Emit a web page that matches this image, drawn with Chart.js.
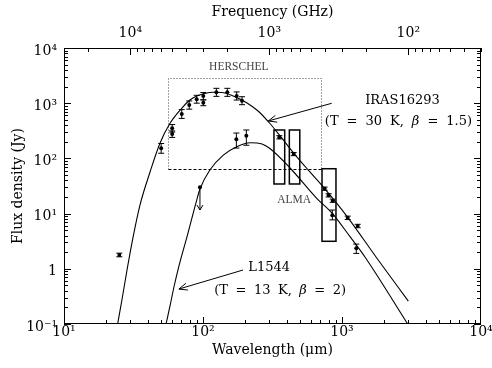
<!DOCTYPE html>
<html><head><meta charset="utf-8">
<script src="https://cdn.jsdelivr.net/npm/chart.js@4/dist/chart.umd.min.js"></script>
<style>html,body{margin:0;padding:0;background:#fff}#wrap{width:492px;height:368px}</style>
</head><body><div id="wrap"><canvas id="c" width="492" height="368"></canvas></div>
<script>
// ---- tick labels ----
const wavelengthTicks = [10, 100, 1000, 10000];
const wavelengthTickLabels = ['10¹', '10²', '10³', '10⁴'];
const frequencyTicks = [10000, 1000, 100];
const frequencyTickLabels = ['10⁴', '10³', '10²'];
const fluxTicks = [0.1, 1, 10, 100, 1000, 10000];
const fluxTickLabels = ['10⁻¹', '1', '10¹', '10²', '10³', '10⁴'];

// ---- IRAS16293 observations (wavelength µm, flux Jy, error range) ----
const irasWl   = [25, 50, 60, 60, 70.3, 79.6, 90.1, 100.5, 100.5, 124.8, 149.6, 174.7, 190.8, 354, 449, 750, 801, 857, 1099, 1297];
const irasFlux = [1.78, 152, 351, 277, 637, 927, 1178, 1350, 1020, 1575, 1575, 1350, 1110, 241, 120, 28.3, 21.4, 17.1, 8.4, 5.96];
const irasLow  = [1.65, 124, 300, 240, 530, 780, 1000, 1150, 900, 1330, 1330, 1140, 940, 225, 112, 26.5, 20, 16, 7.8, 5.55];
const irasHigh = [1.92, 186, 410, 315, 765, 1100, 1390, 1560, 1150, 1860, 1860, 1600, 1310, 258, 128, 30.2, 22.9, 18.3, 9.0, 6.4];

// ---- L1544 observations ----
const l1544Wl   = [173.8, 205, 852, 1267];
const l1544Flux = [222, 258, 9.3, 2.35];
const l1544Low  = [154, 173, 7.7, 1.9];
const l1544High = [288, 327, 11.6, 2.8];
const l1544LimitWl = [95.1];
const l1544LimitFlux = [29.9];
const l1544LimitTo = [11.6];

// ---- model curves ----
const irasModelWl   = [24.3, 26.1, 28.4, 31.3, 35.2, 41.6, 49.1, 57.9, 70.3, 80.5, 90.1, 103, 118.6, 137, 165, 206, 249, 303, 354, 449, 579, 750, 1099, 1778, 3000];
const irasModelFlux = [0.1, 0.272, 0.95, 3.61, 14.3, 56.8, 190, 432, 809, 1143, 1349, 1500, 1575, 1565, 1349, 1020, 722, 429, 266, 125, 59.2, 28.3, 8.57, 1.57, 0.26];
const l1544ModelWl   = [54.2, 57.9, 61.8, 67.1, 77.3, 90.1, 95.1, 112, 140, 175, 218, 266, 303, 423, 658, 851, 1142, 1463, 3000];
const l1544ModelFlux = [0.1, 0.212, 0.468, 1.12, 4.09, 17.6, 27.9, 61.7, 115, 163, 192, 182, 151, 67, 18.9, 10.1, 3.82, 1.64, 0.096];

// ---- observing windows (wavelength range µm, flux range Jy) ----
const herschelWindow = [56, 706, 64.3, 2865];
const almaWindows = [[324, 387, 34.4, 327], [418, 497, 34.4, 327], [718, 905, 3.15, 65]];

const C_UM_GHZ = 2.998e5;
const SERIF = "'DejaVu Serif', serif";

function pts(xs, ys) { return xs.map((x, i) => ({ x: x, y: ys[i] })); }

const decor = {
  id: 'decor',
  beforeDatasetsDraw(chart) {
    const c = chart.ctx, sx = chart.scales.x, sy = chart.scales.y;
    const X = v => sx.getPixelForValue(v), Y = v => sy.getPixelForValue(v);
    c.save();
    const [hx0, hx1, hy0, hy1] = herschelWindow;
    const L = Math.round(X(hx0)) + 0.5, R = Math.round(X(hx1)) + 0.5, T = Math.round(Y(hy1)) + 0.5, B = Math.round(Y(hy0)) + 0.5;
    c.lineWidth = 1; c.strokeStyle = '#444'; c.setLineDash([1, 2]);
    c.beginPath(); c.moveTo(L, B); c.lineTo(L, T); c.lineTo(R, T); c.lineTo(R, B); c.stroke();
    c.strokeStyle = '#000'; c.setLineDash([3, 2]);
    c.beginPath(); c.moveTo(L, B); c.lineTo(R, B); c.stroke();
    c.setLineDash([]);
    c.lineWidth = 1.5; c.strokeStyle = '#000';
    almaWindows.forEach(w => {
      const x0 = X(w[0]), x1 = X(w[1]), y0 = Y(w[3]), y1 = Y(w[2]);
      c.strokeRect(x0, y0, x1 - x0, y1 - y0);
    });
    c.lineWidth = 1;
    const eb = (xs, lo, hi) => xs.forEach((v, i) => {
      const x = X(v), a = Y(lo[i]), b = Y(hi[i]);
      c.beginPath(); c.moveTo(x, a); c.lineTo(x, b);
      c.moveTo(x - 3, a); c.lineTo(x + 3, a); c.moveTo(x - 3, b); c.lineTo(x + 3, b); c.stroke();
    });
    eb(irasWl, irasLow, irasHigh);
    eb(l1544Wl, l1544Low, l1544High);
    l1544LimitWl.forEach((v, i) => {
      const x = X(v), a = Y(l1544LimitFlux[i]), b = Y(l1544LimitTo[i]);
      c.beginPath(); c.moveTo(x, a); c.lineTo(x, b);
      c.moveTo(x - 3, b - 5); c.lineTo(x, b); c.lineTo(x + 3, b - 5); c.stroke();
    });
    c.restore();
  },
  afterDatasetsDraw(chart) {
    const c = chart.ctx, a = chart.chartArea, sx = chart.scales.x, sy = chart.scales.y, sf = chart.scales.x2;
    const X = v => sx.getPixelForValue(v), Y = v => sy.getPixelForValue(v);
    c.save();
    c.strokeStyle = '#000'; c.lineWidth = 1;
    c.strokeRect(a.left + 0.5, a.top + 0.5, a.right - a.left - 1, a.bottom - a.top - 1);
    c.beginPath();
    for (let n = 1; n <= 3; n++) for (let m = 1; m <= 9; m++) {
      const v = m * Math.pow(10, n); if (v > 10000) continue;
      const x = Math.round(X(v)) + 0.5, len = m === 1 ? 7 : 4;
      c.moveTo(x, a.bottom); c.lineTo(x, a.bottom - len);
    }
    for (let n = 1; n <= 4; n++) for (let m = 1; m <= 9; m++) {
      const v = m * Math.pow(10, n); if (v < sf.min - 1e-6 || v > sf.max + 1e-6) continue;
      const x = Math.round(sf.getPixelForValue(v)) + 0.5, len = m === 1 ? 7 : 4;
      c.moveTo(x, a.top); c.lineTo(x, a.top + len);
    }
    for (let n = -1; n <= 3; n++) for (let m = 1; m <= 9; m++) {
      const v = m * Math.pow(10, n); if (v > 10000) continue;
      const y = Math.round(Y(v)) + 0.5, len = m === 1 ? 7 : 4;
      c.moveTo(a.left, y); c.lineTo(a.left + len, y);
      c.moveTo(a.right, y); c.lineTo(a.right - len, y);
    }
    c.stroke();
    const arrow = (x0, y0, x1, y1) => {
      const ang = Math.atan2(y1 - y0, x1 - x0), L = 9, w = 0.4;
      c.beginPath(); c.moveTo(x0, y0); c.lineTo(x1, y1);
      c.moveTo(x1 - L * Math.cos(ang - w), y1 - L * Math.sin(ang - w));
      c.lineTo(x1, y1);
      c.lineTo(x1 - L * Math.cos(ang + w), y1 - L * Math.sin(ang + w));
      c.stroke();
    };
    arrow(X(843), Y(996), X(295), Y(476));
    arrow(X(194), Y(0.95), X(67.1), Y(0.43));
    c.fillStyle = '#000'; c.textBaseline = 'middle'; c.textAlign = 'left';
    // rich text: parts [text, font]; spaces rendered with a fixed gap
    const rich = (parts, x, y, align, gap) => {
      const segs = [];
      parts.forEach(p => p[0].split(/( )/).forEach(t => { if (t !== '') segs.push([t, p[1]]); }));
      const wOf = s => { if (s[0] === ' ') return gap; c.font = s[1]; return c.measureText(s[0]).width; };
      const w = segs.reduce((acc, s) => acc + wOf(s), 0);
      let cx = align === 'center' ? x - w / 2 : x;
      segs.forEach(s => { const sw = wOf(s); if (s[0] !== ' ') { c.font = s[1]; c.fillText(s[0], cx, y); } cx += sw; });
    };
    const N = '13px ' + SERIF, I = 'italic 13px ' + SERIF;
    rich([['IRAS16293', N]], X(2723), Y(1096), 'center', 8);
    rich([['(T = 30 K, ', N], ['β', I], [' = 1.5)', N]], X(2547), Y(462), 'center', 8);
    rich([['L1544', N]], X(212), Y(1.03), 'left', 8);
    rich([['(T = 13 K, ', N], ['β', I], [' = 2)', N]], X(120.5), Y(0.396), 'left', 7.5);
    c.fillStyle = '#444'; c.font = "11.5px 'Liberation Serif', serif"; c.textAlign = 'center';
    c.fillText('HERSCHEL', X(181), Y(4580));
    c.fillText('ALMA', X(452), Y(18.0));
    c.restore();
  }
};

const tickFont = { family: SERIF, size: 14 };
const curveStyle = { showLine: true, borderColor: '#000', borderWidth: 1.1, pointRadius: 0, cubicInterpolationMode: 'monotone' };
new Chart(document.getElementById('c'), {
  type: 'scatter',
  data: {
    datasets: [
      Object.assign({ label: 'IRAS16293 model', data: pts(irasModelWl, irasModelFlux) }, curveStyle),
      Object.assign({ label: 'L1544 model', data: pts(l1544ModelWl, l1544ModelFlux) }, curveStyle),
      { label: 'IRAS16293', data: pts(irasWl, irasFlux), pointRadius: irasWl.map((v, i) => i === 0 ? 2.5 : 2), pointStyle: irasWl.map((v, i) => i === 0 ? 'rect' : 'circle'), backgroundColor: '#000', borderColor: '#000', borderWidth: 0 },
      { label: 'L1544', data: pts(l1544Wl, l1544Flux), pointRadius: 2, backgroundColor: '#000', borderColor: '#000', borderWidth: 0 },
      { label: 'L1544 upper limit', data: pts(l1544LimitWl, l1544LimitFlux), pointRadius: 2, backgroundColor: '#000', borderColor: '#000', borderWidth: 0 }
    ]
  },
  options: {
    responsive: false, animation: false, devicePixelRatio: 1,
    layout: { padding: { left: 0, right: 11, top: 0, bottom: 0 } },
    plugins: { legend: { display: false }, tooltip: { enabled: false } },
    scales: {
      x: {
        type: 'logarithmic', position: 'bottom', min: 10, max: 10000,
        grid: { display: false, drawTicks: false }, border: { display: false },
        afterBuildTicks: s => { s.ticks = wavelengthTicks.map(v => ({ value: v })); },
        afterFit: s => { s.height = 44; s.paddingLeft = 0; s.paddingRight = 0; },
        ticks: { callback: v => { const i = wavelengthTicks.indexOf(v); return i < 0 ? '' : wavelengthTickLabels[i]; }, autoSkip: false, maxRotation: 0, minRotation: 0, padding: 0, color: '#000', font: tickFont },
        title: { display: true, text: 'Wavelength (μm)', color: '#000', font: tickFont, padding: { top: 0, bottom: 9 } }
      },
      x2: {
        type: 'logarithmic', position: 'top', min: C_UM_GHZ / 10000, max: C_UM_GHZ / 10, reverse: true,
        grid: { display: false, drawTicks: false }, border: { display: false },
        afterBuildTicks: s => { s.ticks = frequencyTicks.map(v => ({ value: v })); },
        afterFit: s => { s.height = 48; s.paddingLeft = 0; s.paddingRight = 0; },
        ticks: { callback: v => { const i = frequencyTicks.indexOf(v); return i < 0 ? '' : frequencyTickLabels[i]; }, autoSkip: false, maxRotation: 0, minRotation: 0, padding: 6, color: '#000', font: tickFont },
        title: { display: true, text: 'Frequency (GHz)', color: '#000', font: tickFont, padding: { top: 4, bottom: 0 } }
      },
      y: {
        type: 'logarithmic', position: 'left', min: 0.1, max: 10000,
        grid: { display: false, drawTicks: false }, border: { display: false },
        afterBuildTicks: s => { s.ticks = fluxTicks.map(v => ({ value: v })); },
        afterFit: s => { s.width = 64; s.paddingTop = 0; s.paddingBottom = 0; },
        ticks: { callback: v => { const i = fluxTicks.indexOf(v); return i < 0 ? '' : fluxTickLabels[i]; }, autoSkip: false, padding: 7, labelOffset: 3, color: '#000', font: tickFont },
        title: { display: true, text: 'Flux density (Jy)', color: '#000', font: tickFont, padding: { top: 10, bottom: 0 } }
      }
    }
  },
  plugins: [decor]
});
</script></body></html>
